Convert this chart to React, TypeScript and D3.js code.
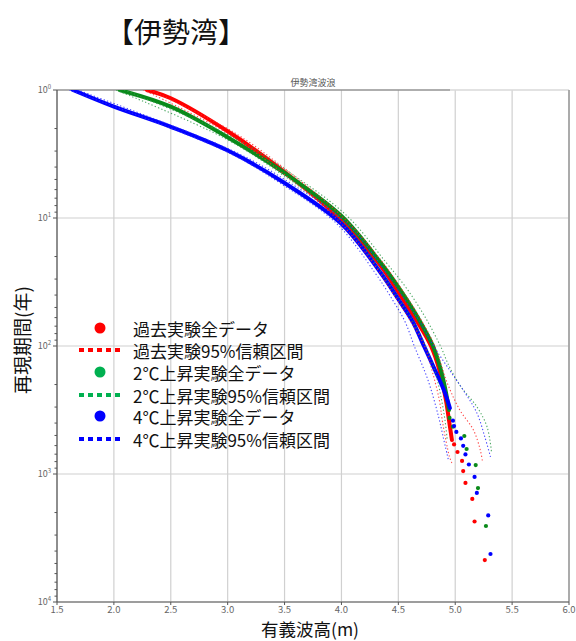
import React from "react";
import * as d3 from "d3";

type P = [number, number]; // [wave height H (m), return period T (years)]

const title = "【伊勢湾】";
const subtitle = "伊勢湾波浪";
const xLabel = "有義波高(m)";
const yLabel = "再現期間(年)";
const xTicks = [1.5, 2.0, 2.5, 3.0, 3.5, 4.0, 4.5, 5.0, 5.5, 6.0];
const yDecades = [0, 1, 2, 3, 4];

// 過去実験
const pastLine: P[] = [
  [2.29, 1], [2.5, 1.16], [3.01, 2.13], [3.5, 4.37], [4.0, 10.4], [4.34, 23.3], [4.505, 38.5],
  [4.646, 60.4], [4.787, 100], [4.866, 160], [4.918, 264], [4.945, 379], [4.971, 542],
];
const pastDots: P[] = [
  [4.99, 587], [5.02, 673], [5.06, 791], [5.07, 948], [5.09, 1175], [5.15, 1567], [5.17, 2350], [5.26, 4700],
];
const pastUpper: P[] = [
  [2.32, 1], [3.05, 2.13], [3.54, 4.37], [4.04, 10.4], [4.38, 23.3], [4.55, 38.5], [4.69, 60.4],
  [4.82, 100], [4.93, 194.5], [5.04, 316], [5.16, 453], [5.22, 649], [5.24, 806],
];
const pastLower: P[] = [
  [2.26, 1], [2.98, 2.13], [3.47, 4.37], [3.97, 10.4], [4.29, 23.3], [4.45, 38.5], [4.59, 60.4],
  [4.73, 100], [4.8, 160], [4.86, 264], [4.89, 400], [4.95, 735], [4.97, 820],
];

// 2℃上昇実験
const plus2Line: P[] = [
  [2.05, 1], [2.5, 1.35], [3.01, 2.37], [3.5, 4.45], [4.0, 9.65], [4.34, 22.1], [4.505, 35.2],
  [4.663, 58.3], [4.804, 100], [4.874, 154], [4.918, 229], [4.945, 316],
];
const plus2Dots: P[] = [
  [4.95, 365], [4.98, 427], [5.08, 505], [5.1, 638], [5.18, 851], [5.2, 1287], [5.27, 2548],
];
const plus2Upper: P[] = [
  [2.09, 1], [3.06, 2.37], [3.55, 4.45], [4.05, 9.65], [4.39, 22.1], [4.57, 35.2], [4.73, 58.3],
  [4.87, 100], [4.95, 146], [5.05, 208], [5.19, 298], [5.28, 429], [5.32, 686],
];
const plus2Lower: P[] = [
  [2.02, 1], [2.97, 2.37], [3.46, 4.45], [3.96, 9.65], [4.29, 22.1], [4.44, 35.2], [4.6, 58.3],
  [4.74, 100], [4.83, 167], [4.88, 264], [4.91, 379], [4.93, 542],
];

// 4℃上昇実験
const plus4Line: P[] = [
  [1.64, 1], [2.0, 1.35], [2.5, 1.94], [3.01, 3.0], [3.5, 5.33], [4.0, 11.1], [4.34, 26.4],
  [4.505, 43.7], [4.628, 64.9], [4.725, 100], [4.822, 154], [4.9, 221], [4.953, 305],
];
const plus4Dots: P[] = [
  [4.98, 383], [4.99, 422], [5.01, 469], [5.05, 527], [5.07, 602], [5.09, 703], [5.12, 843],
  [5.17, 1054], [5.19, 1406], [5.29, 2108], [5.31, 4217],
];
const plus4Upper: P[] = [
  [1.68, 1], [3.05, 3.0], [3.55, 5.33], [4.05, 11.1], [4.39, 26.4], [4.56, 43.7], [4.69, 64.9],
  [4.81, 100], [4.95, 154], [5.07, 221], [5.19, 333], [5.26, 513], [5.31, 735],
];
const plus4Lower: P[] = [
  [1.61, 1], [2.98, 3.0], [3.46, 5.33], [3.96, 11.1], [4.29, 26.4], [4.45, 43.7], [4.56, 64.9],
  [4.64, 100], [4.76, 184], [4.85, 347], [4.9, 542], [4.93, 708], [4.94, 778],
];

const legendLabels = [
  "過去実験全データ",
  "過去実験95%信頼区間",
  "2℃上昇実験全データ",
  "2℃上昇実験95%信頼区間",
  "4℃上昇実験全データ",
  "4℃上昇実験95%信頼区間",
];

const FONT = "'Noto Sans CJK JP', 'Noto Sans', sans-serif";
const W = 576;
const H = 641;
const L = 57, R = 569, T = 90, B = 602;

export default function App() {
  const x = d3.scaleLinear().domain([1.5, 6.0]).range([L, R]);
  const y = d3.scaleLog().domain([1, 10000]).range([T, B]);
  const line = d3
    .line<P>()
    .x((d) => x(d[0]))
    .y((d) => y(d[1]))
    .curve(d3.curveCatmullRom.alpha(0.5));

  const series = [
    { line: pastLine, dots: pastDots, upper: pastUpper, lower: pastLower, color: "#ff0000", ci: "#ff2a2a", legend: "#ff0000" },
    { line: plus2Line, dots: plus2Dots, upper: plus2Upper, lower: plus2Lower, color: "#0a8a1a", ci: "#2f9a4a", legend: "#00b050" },
    { line: plus4Line, dots: plus4Dots, upper: plus4Upper, lower: plus4Lower, color: "#0000ff", ci: "#2a2aff", legend: "#0000ff" },
  ];

  const minorTicks: number[] = [];
  for (let k = 0; k < 4; k++) for (let m = 2; m <= 9; m++) minorTicks.push(m * 10 ** k);

  const legendRows = [330, 352, 374, 397, 418, 441];

  return (
    <svg
      width={W}
      height={H}
      style={{ position: "absolute", left: 0, top: 0, background: "#fff" }}
      fontFamily={FONT}
    >
      <rect x={0} y={0} width={W} height={H} fill="#fff" />
      <defs>
        <clipPath id="plotclip">
          <rect x={L} y={T} width={R - L} height={B - T} />
        </clipPath>
      </defs>

      <text x={176} y={43} fontSize={28} textAnchor="middle" fill="#111">{title}</text>
      <text x={313} y={86} fontSize={9} textAnchor="middle" fill="#555">{subtitle}</text>

      {/* grid */}
      {xTicks.map((t) => (
        <line key={"gx" + t} x1={x(t)} x2={x(t)} y1={T} y2={B} stroke="#d0d0d0" strokeWidth={1.2} />
      ))}
      {yDecades.map((k) => (
        <line key={"gy" + k} x1={L} x2={R} y1={y(10 ** k)} y2={y(10 ** k)} stroke="#d0d0d0" strokeWidth={1.2} />
      ))}

      {/* frame */}
      <line x1={L} x2={450} y1={T} y2={T} stroke="#777" strokeWidth={1.2} />
      <line x1={450} x2={R} y1={T} y2={T} stroke="#ddd" strokeWidth={1.2} />
      <line x1={R} x2={R} y1={T} y2={B} stroke="#999" strokeWidth={1.5} />
      <line x1={L} x2={L} y1={T} y2={B} stroke="#555" strokeWidth={1.2} />
      <line x1={L} x2={R} y1={B} y2={B} stroke="#555" strokeWidth={1.2} />

      {/* y ticks */}
      {yDecades.map((k) => (
        <g key={"yt" + k}>
          <line x1={L - 4} x2={L} y1={y(10 ** k)} y2={y(10 ** k)} stroke="#555" />
          <text x={L - 6} y={y(10 ** k) + 3} fontSize={9} textAnchor="end" fill="#666">
            10<tspan dy={-4} fontSize={6}>{k}</tspan>
          </text>
        </g>
      ))}
      {minorTicks.map((v) => (
        <line key={"ym" + v} x1={L - 2.5} x2={L} y1={y(v)} y2={y(v)} stroke="#555" />
      ))}

      {/* x ticks */}
      {xTicks.map((t) => (
        <g key={"xt" + t}>
          <line x1={x(t)} x2={x(t)} y1={B} y2={B + 3} stroke="#555" />
          <text x={x(t)} y={B + 10.5} fontSize={9.5} textAnchor="middle" fill="#666">
            {t.toFixed(1)}
          </text>
        </g>
      ))}

      {/* data */}
      <g clipPath="url(#plotclip)">
        {series.map((s, i) => (
          <g key={"s" + i}>
            <path d={line(s.line) || ""} fill="none" stroke={s.color} strokeWidth={4} strokeLinecap="round" strokeLinejoin="round" />
            {s.dots.map((d, j) => (
              <circle key={j} cx={x(d[0])} cy={y(d[1])} r={2.1} fill={s.color} />
            ))}
          </g>
        ))}
        {series.map((s, i) => (
          <g key={"ci" + i}>
            <path d={line(s.upper) || ""} fill="none" stroke={s.ci} strokeWidth={1.1} strokeDasharray="1.3,2.2" opacity={0.85} />
            <path d={line(s.lower) || ""} fill="none" stroke={s.ci} strokeWidth={1.1} strokeDasharray="1.3,2.2" opacity={0.85} />
          </g>
        ))}
      </g>

      {/* legend */}
      {series.map((s, i) => (
        <g key={"lg" + i}>
          <circle cx={100} cy={legendRows[i * 2] - 2} r={5.5} fill={s.legend} />
          <line x1={79} x2={121} y1={legendRows[i * 2 + 1] - 2} y2={legendRows[i * 2 + 1] - 2} stroke={s.legend} strokeWidth={4} strokeDasharray="5,4" />
        </g>
      ))}
      {legendLabels.map((lab, i) => (
        <text key={"lt" + i} x={133} y={legendRows[i] + 6} fontSize={17} fill="#111">
          {lab}
        </text>
      ))}

      {/* axis labels */}
      <text x={310} y={636} fontSize={17.5} textAnchor="middle" fill="#111">{xLabel}</text>
      <text
        transform={`translate(30, 340) rotate(-90)`}
        fontSize={19}
        textAnchor="middle"
        fill="#111"
      >
        {yLabel}
      </text>
    </svg>
  );
}
